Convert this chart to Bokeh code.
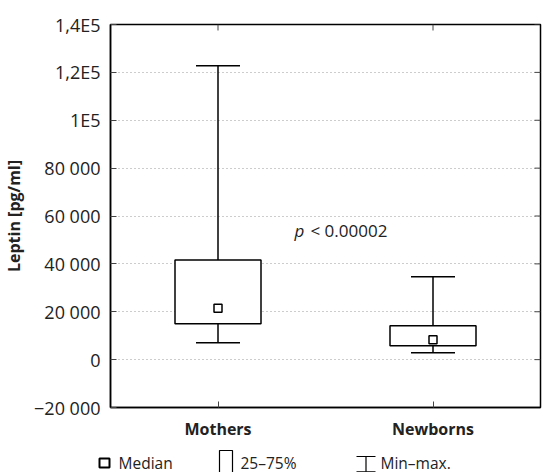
from bokeh.plotting import figure
from bokeh.layouts import column
from bokeh.models import (FactorRange, Range1d, Whisker, TeeHead, ColumnDataSource, Label,
                          FixedTicker)
from bokeh.core.properties import value
from bokeh.embed import file_html
from bokeh.resources import INLINE

groups = ["Mothers", "Newborns"]
minimum = [7000, 2900]
q1 = [15000, 5800]
median = [21500, 8300]
q3 = [41600, 14200]
maximum = [122800, 34600]
y_ticks = [-20000, 0, 20000, 40000, 60000, 80000, 100000, 120000, 140000]
y_tick_labels = ["\u221220 000", "0", "20 000", "40 000", "60 000", "80 000", "1E5", "1,2E5", "1,4E5"]
y_min, y_max = -20000, 140000
legend_labels = ["Median", "25\u201375%", "Min\u2013max."]

FONT = "Open Sans"
TXT = "#222222"
W, H = 542, 442
LH = 30
FL, FR, FT, FB = 110, 540, 24, 408

src = ColumnDataSource(dict(g=groups, lo=minimum, q1=q1, med=median, q3=q3, hi=maximum))

p = figure(width=W, height=H, x_range=FactorRange(*groups), y_range=Range1d(y_min, y_max),
           output_backend="svg", toolbar_location=None,
           min_border_left=FL, min_border_top=FT, min_border_bottom=H - FB, min_border_right=W - FR,
           y_axis_label="Leptin [pg/ml]")
p.outline_line_color = "black"
p.outline_line_width = 1.5
p.xgrid.visible = False
p.ygrid.ticker = FixedTicker(ticks=y_ticks)
p.ygrid.grid_line_color = "#9a9a9a"
p.ygrid.grid_line_dash = "1 3"
p.ygrid.grid_line_width = 1

w = Whisker(source=src, base="g", lower="lo", upper="hi", line_color="black", line_width=1.5,
            lower_head=TeeHead(size=44, line_color="black", line_width=1.5),
            upper_head=TeeHead(size=44, line_color="black", line_width=1.5), level="underlay")
p.add_layout(w)
p.vbar(x="g", width=0.4, bottom="q1", top="q3", source=src, fill_color="white",
       line_color="black", line_width=1.5)
p.scatter(x="g", y="med", source=src, marker="square", size=8, fill_color="white",
          line_color="black", line_width=1.5)

# inward ticks on the top and right frame edges
tick_px = 6
ty = (y_max - y_min) * tick_px / (FB - FT)
tx = len(groups) * tick_px / (FR - FL)
p.segment(x0=groups, x1=groups, y0=[y_max] * len(groups), y1=[y_max - ty] * len(groups),
          line_color="#444444", line_width=1)
p.segment(x0=[float(len(groups))] * len(y_ticks), x1=[len(groups) - tx] * len(y_ticks),
          y0=y_ticks, y1=y_ticks, line_color="#444444", line_width=1)

# left axis
ya = p.yaxis[0]
ya.ticker = FixedTicker(ticks=y_ticks)
ya.major_label_overrides = {t: l for t, l in zip(y_ticks, y_tick_labels)}
ya.major_tick_in = tick_px
ya.major_tick_out = 0
ya.minor_tick_in = 0
ya.minor_tick_out = 0
ya.major_label_standoff = 10
ya.major_label_text_font = FONT
ya.major_label_text_font_size = "18px"
ya.major_label_text_color = TXT
ya.axis_label_text_font = FONT
ya.axis_label_text_font_style = "bold"
ya.axis_label_text_font_size = "16px"
ya.axis_label_text_color = TXT
ya.axis_label_standoff = 6
ya.axis_line_color = "black"
ya.axis_line_width = 1.5
ya.major_tick_line_color = "#444444"

xa = p.xaxis[0]
xa.major_tick_in = tick_px
xa.major_tick_out = 0
xa.major_label_standoff = 10
xa.major_label_text_font = FONT
xa.major_label_text_font_style = "bold"
xa.major_label_text_font_size = "16px"
xa.major_label_text_color = TXT
xa.axis_line_color = "black"
xa.axis_line_width = 1.5
xa.major_tick_line_color = "#444444"

# p-value annotation
p.add_layout(Label(x=0.856, y=53750, text="p", text_font=FONT, text_font_style="italic",
                   text_font_size="17px", text_color=TXT, text_baseline="middle"))
p.add_layout(Label(x=0.93, y=53750, text="< 0.00002", text_font=FONT,
                   text_font_size="17px", text_color=TXT, text_baseline="middle"))

# legend strip below the chart (pixel coordinates, y downward)
lg = figure(width=W, height=LH, x_range=Range1d(0, W), y_range=Range1d(LH, 0),
            output_backend="svg", toolbar_location=None, frame_align=False,
            min_border_left=0, min_border_right=0, min_border_top=0, min_border_bottom=0)
lg.axis.visible = False
lg.grid.visible = False
lg.outline_line_color = None
lg.text(x=[118, 240, 380], y=[20, 20, 20], text=legend_labels, text_font=value(FONT),
        text_font_size="15.5px", text_color=TXT, text_baseline="middle")
lg.quad(left=[99], right=[109], top=[16], bottom=[25], fill_color="white",
        line_color="black", line_width=2)
lg.quad(left=[219], right=[232], top=[8], bottom=[34], fill_alpha=0,
        line_color="black", line_width=1.2)
lg.segment(x0=[356, 365.5, 356], x1=[375, 365.5, 375], y0=[14, 14, 29.3], y1=[14, 29.3, 29.3],
           line_color="black", line_width=1.2)

layout = column(p, lg, spacing=0)

file = open("out.html", "w")
file.write(file_html(layout, INLINE))
file.close()
